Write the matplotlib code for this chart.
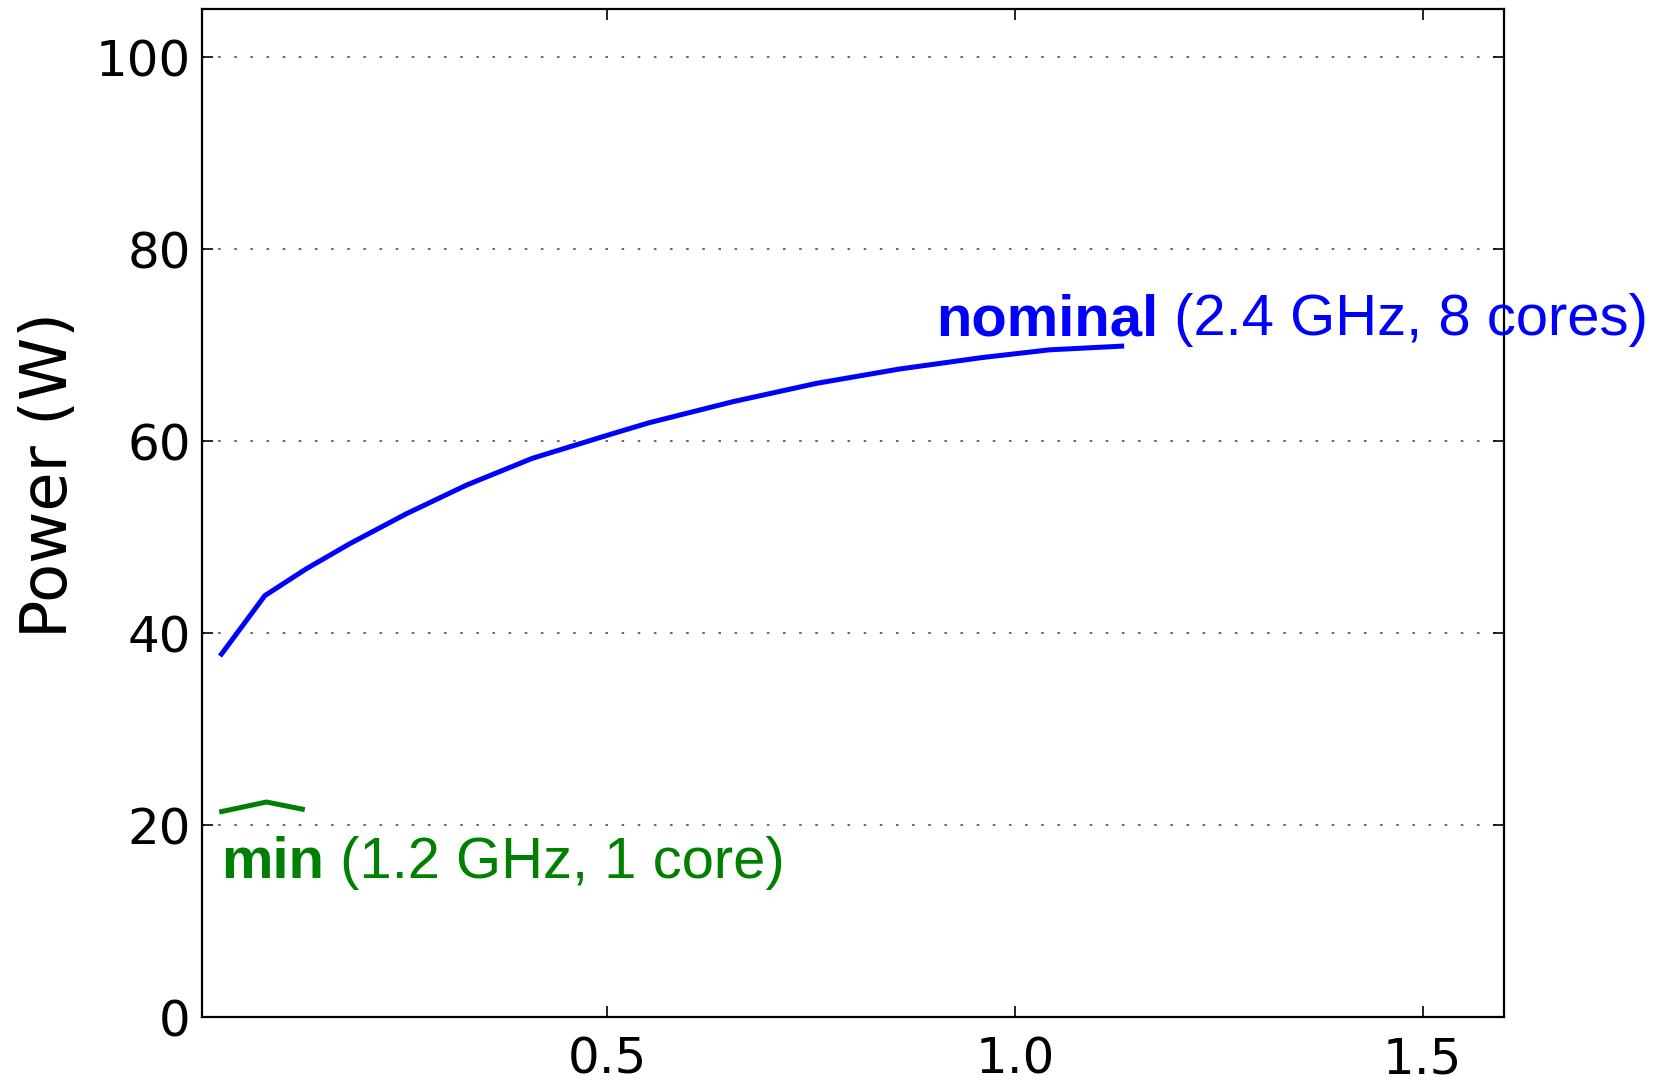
import matplotlib.pyplot as plt

# data
nominal_x = [0.025, 0.080, 0.131, 0.184, 0.253, 0.327, 0.408, 0.500, 0.551,
             0.654, 0.756, 0.858, 0.960, 1.042, 1.134]
nominal_y = [37.6, 43.9, 46.7, 49.3, 52.4, 55.4, 58.2, 60.6, 61.9,
             64.1, 66.0, 67.5, 68.7, 69.5, 69.9]
min_x = [0.024, 0.082, 0.129]
min_y = [21.35, 22.4, 21.6]

yticks = [0, 20, 40, 60, 80, 100]
xticks = [0.5, 1.0, 1.5]

fig = plt.figure(figsize=(16.55, 10.8), dpi=100)
ax = fig.add_axes([0.1221, 0.0583, 0.7867, 0.9333])

ax.plot(nominal_x, nominal_y, color='#0000ff', lw=3.6, solid_capstyle='butt')
ax.plot(min_x, min_y, color='#008000', lw=3.6, solid_capstyle='butt')

ax.set_xlim(0.003, 1.6)
ax.set_ylim(0, 105)
ax.set_xticks(xticks)
ax.set_yticks(yticks)
ax.set_xticklabels(['0.5', '1.0', '1.5'])

ax.yaxis.grid(True, color='#666666', linestyle=(0, (1.3, 7)), lw=1.4)
ax.set_axisbelow(True)

for sp in ax.spines.values():
    sp.set_linewidth(1.6)

ax.tick_params(direction='in', length=8, width=1.2, top=True, right=True,
               labelsize=36)
ax.tick_params(axis='x', pad=13)
ax.tick_params(axis='y', pad=8)

fig.text(49 / 1655, 1 - 475 / 1080, 'Power (W)', rotation=90, fontsize=46,
         ha='center', va='center')

# labels on the lines
tf = 'Liberation Sans'
fs = 41.8
t1 = ax.text(0.903, 71.0, 'nominal', color='#0000ff', fontsize=fs,
             fontweight='bold', family=tf, va='baseline', ha='left')
ax.annotate(' (2.4 GHz, 8 cores)', xy=(1, 0), xycoords=t1, color='#0000ff',
            fontsize=fs, family=tf, va='bottom', ha='left',
            annotation_clip=False)

t2 = ax.text(0.026, 14.45, 'min', color='#008000', fontsize=fs,
             fontweight='bold', family=tf, va='baseline', ha='left')
ax.annotate(' (1.2 GHz, 1 core)', xy=(1, 0), xycoords=t2, color='#008000',
            fontsize=fs, family=tf, va='bottom', ha='left',
            annotation_clip=False)

fig.savefig('out.png', dpi=100)
